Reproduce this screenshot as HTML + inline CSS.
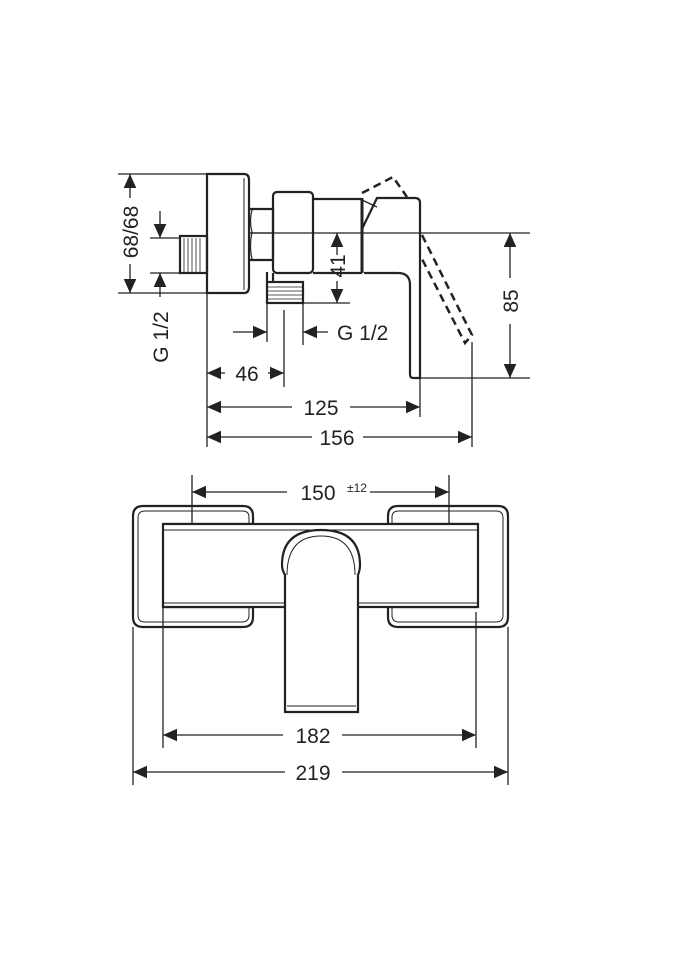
<!DOCTYPE html>
<html><head><meta charset="utf-8"><style>
html,body{margin:0;padding:0;background:#fff;}
svg{display:block}
text{font-family:"Liberation Sans",sans-serif;font-size:21px;fill:#222}
</style></head><body>
<svg width="675" height="960" viewBox="0 0 675 960" xmlns="http://www.w3.org/2000/svg">
<defs>
<marker id="a" viewBox="0 0 10 10" refX="10" refY="5" markerWidth="14" markerHeight="14" markerUnits="userSpaceOnUse" orient="auto-start-reverse"><path d="M0,0.5 L10,5 L0,9.5 z" fill="#222"/></marker>
</defs>
<g stroke="#222" fill="none" stroke-width="1.3">
<line x1="118" y1="174" x2="207" y2="174"/>
<line x1="118" y1="293" x2="207" y2="293"/>
<line x1="150" y1="238" x2="180" y2="238"/>
<line x1="150" y1="273" x2="180" y2="273"/>
<line x1="250" y1="233" x2="530" y2="233"/>
<line x1="420" y1="378" x2="530" y2="378"/>
<line x1="303" y1="303" x2="350" y2="303"/>
<line x1="207" y1="293" x2="207" y2="447"/>
<line x1="267" y1="303" x2="267" y2="342"/>
<line x1="303" y1="303" x2="303" y2="345"/>
<line x1="284" y1="310" x2="284" y2="387"/>
<line x1="420" y1="378" x2="420" y2="417"/>
<line x1="472" y1="342" x2="472" y2="447"/>
<line x1="130" y1="174" x2="130" y2="198" marker-start="url(#a)"/>
<line x1="130" y1="264" x2="130" y2="293" marker-end="url(#a)"/>
<line x1="160" y1="211" x2="160" y2="238" marker-end="url(#a)"/>
<line x1="160" y1="297" x2="160" y2="273" marker-end="url(#a)"/>
<line x1="337" y1="255" x2="337" y2="233" marker-end="url(#a)"/>
<line x1="337" y1="281" x2="337" y2="303" marker-end="url(#a)"/>
<line x1="510" y1="233" x2="510" y2="278" marker-start="url(#a)"/>
<line x1="510" y1="324" x2="510" y2="378" marker-end="url(#a)"/>
<line x1="233" y1="332" x2="267" y2="332" marker-end="url(#a)"/>
<line x1="328" y1="332" x2="303" y2="332" marker-end="url(#a)"/>
<line x1="207" y1="373" x2="225" y2="373" marker-start="url(#a)"/>
<line x1="268" y1="373" x2="284" y2="373" marker-end="url(#a)"/>
<line x1="207" y1="407" x2="292" y2="407" marker-start="url(#a)"/>
<line x1="350" y1="407" x2="420" y2="407" marker-end="url(#a)"/>
<line x1="207" y1="437" x2="312" y2="437" marker-start="url(#a)"/>
<line x1="363" y1="437" x2="472" y2="437" marker-end="url(#a)"/>
</g>
<g stroke="#222" fill="none" stroke-width="2.2">
<path d="M207,174 H244 Q249,174 249,180 V287 Q249,293 244,293 H207 Z"/>
<line x1="244" y1="178" x2="244" y2="290" stroke-width="1"/>
<rect x="180" y="236" width="27" height="37"/>
<g stroke-width="0.8"><line x1="184" y1="238" x2="184" y2="272"/><line x1="188" y1="238" x2="188" y2="272"/><line x1="192" y1="238" x2="192" y2="272"/><line x1="196" y1="238" x2="196" y2="272"/><line x1="200" y1="238" x2="200" y2="272"/></g>
<path d="M249,209 H273 V260 H249"/>
<path d="M252,210 Q249,221 252,232 Q249,246 252,259" stroke-width="1.2"/>
<line x1="249" y1="233" x2="273" y2="233" stroke-width="1.2"/>
<rect x="273" y="192" width="40" height="81" rx="4"/>
<path d="M313,199 H362 M313,273 H362"/>
<line x1="362" y1="198" x2="362" y2="273" stroke-width="3"/>
<path d="M362,229 L377,198 H415 Q420,198 420,203 V378 H413 Q410,378 410,374 V285 Q410,273 398,273 H364"/>
<path d="M362,200 L377,207" stroke-width="1.3"/>
<path d="M362,193 L393,177 L407,197 M422,235 L472,335 L465,343 L422,259" stroke-dasharray="8,5" stroke-width="2.5"/>
<path d="M267,272 V282 M273,273 V282"/>
<rect x="267" y="282" width="36" height="21"/>
<g stroke-width="0.8"><line x1="268" y1="287" x2="302" y2="287"/><line x1="268" y1="291" x2="302" y2="291"/><line x1="268" y1="295" x2="302" y2="295"/><line x1="268" y1="299" x2="302" y2="299"/></g>
</g>
<text transform="translate(138,232) rotate(-90)" text-anchor="middle">68/68</text>
<text transform="translate(168,337) rotate(-90)" text-anchor="middle">G 1/2</text>
<text transform="translate(345,266) rotate(-90)" text-anchor="middle">41</text>
<text transform="translate(518,301) rotate(-90)" text-anchor="middle">85</text>
<text x="337" y="340">G 1/2</text>
<text x="247" y="381" text-anchor="middle">46</text>
<text x="321" y="415" text-anchor="middle">125</text>
<text x="337" y="445" text-anchor="middle">156</text>

<g stroke="#222" fill="none" stroke-width="1.3">
<line x1="192" y1="475" x2="192" y2="567"/>
<line x1="449" y1="475" x2="449" y2="567"/>
<line x1="192" y1="492" x2="287" y2="492" marker-start="url(#a)"/>
<line x1="370" y1="492" x2="449" y2="492" marker-end="url(#a)"/>
<line x1="163" y1="607" x2="163" y2="748"/>
<line x1="476" y1="612" x2="476" y2="748"/>
<line x1="163" y1="735" x2="283" y2="735" marker-start="url(#a)"/>
<line x1="342" y1="735" x2="476" y2="735" marker-end="url(#a)"/>
<line x1="133" y1="627" x2="133" y2="785"/>
<line x1="508" y1="627" x2="508" y2="785"/>
<line x1="133" y1="772" x2="285" y2="772" marker-start="url(#a)"/>
<line x1="342" y1="772" x2="508" y2="772" marker-end="url(#a)"/>
</g>
<g stroke="#222" fill="none" stroke-width="2.2">
<path d="M163,524 H253 V516 Q253,506 243,506 H143 Q133,506 133,516 V617 Q133,627 143,627 H243 Q253,627 253,617 V607 H163"/>
<path d="M163,529 H249 V517 Q249,511 242,511 H145 Q138,511 138,518 V615 Q138,622 145,622 H242 Q249,622 249,615 V608" stroke-width="1"/>
<path d="M478,524 H388 V516 Q388,506 398,506 H498 Q508,506 508,516 V617 Q508,627 498,627 H398 Q388,627 388,617 V607 H478"/>
<path d="M478,529 H392 V517 Q392,511 399,511 H496 Q503,511 503,518 V615 Q503,622 496,622 H399 Q392,622 392,615 V608" stroke-width="1"/>
<rect x="163" y="524" width="315" height="83" fill="#fff"/>
<line x1="163" y1="530" x2="478" y2="530" stroke-width="1"/>
<line x1="163" y1="603" x2="478" y2="603" stroke-width="1"/>
<path d="M285,712 V575 Q282,570 282,565 Q282,530 321,530 Q360,530 360,565 Q360,570 358,575 V712 Z" fill="#fff"/>
<path d="M287,575 Q287,536 321,536 Q355,536 355,575" stroke-width="1"/>
<line x1="287" y1="706" x2="356" y2="706" stroke-width="1"/>
</g>
<text x="318" y="500" text-anchor="middle">150</text>
<text x="347" y="492" style="font-size:12px">±12</text>
<text x="313" y="743" text-anchor="middle">182</text>
<text x="313" y="780" text-anchor="middle">219</text>
</svg>
</body></html>
